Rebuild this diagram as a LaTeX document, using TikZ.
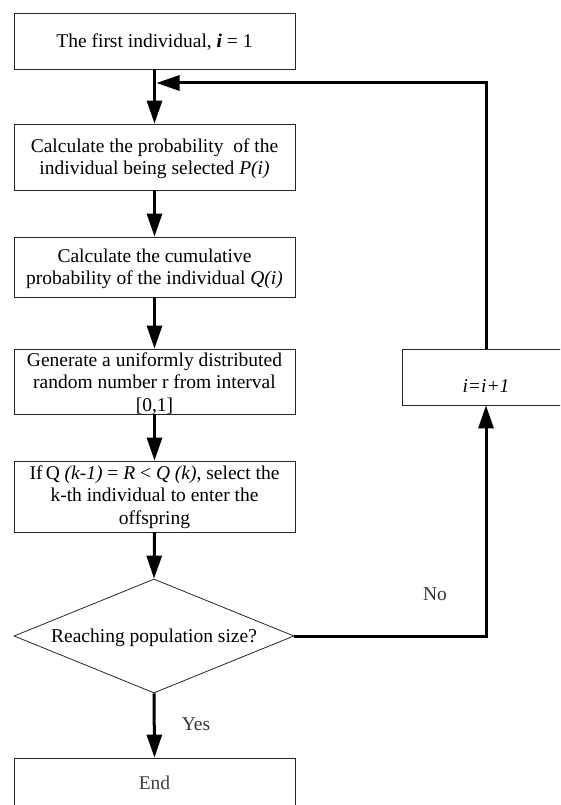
\documentclass[tikz,border=0pt]{standalone}
\usepackage{fontspec}
\setmainfont{Liberation Serif}
\usetikzlibrary{arrows.meta,shapes.geometric}
\newcommand\boxtxt[2][-7]{\raisebox{#1pt}[0pt][0pt]{\begin{tabular}{@{}c@{}}#2\end{tabular}}}
\begin{document}
\begin{tikzpicture}[x=1pt,y=-1pt,
  every node/.style={font=\fontsize{19.5}{22.5}\selectfont},
  box/.style={draw=black!85,line width=0.8pt,inner sep=0pt,minimum width=281pt},
  conn/.style={line width=3pt,-{Triangle[length=23pt,width=15pt]}},
  lbl/.style={text=black!80,inner sep=0pt}]
\useasboundingbox (0,0) rectangle (560,805);
\clip (0,0) rectangle (560,805);
\node[box,minimum height=56pt] (b1) at (154.5,41) {\boxtxt{The first individual, \textbf{\textit{i}} = 1}};
\node[box,minimum height=66pt] (b2) at (154.5,157) {\boxtxt{Calculate the probability\ \ of the\\individual being selected \textit{P(i)}}};
\node[box,minimum height=60pt] (b3) at (154.5,267) {\boxtxt{Calculate the cumulative\\probability of the individual \textit{Q(i)}}};
\node[box,minimum height=65pt] (b4) at (154.5,381.5) {\boxtxt[-8]{Generate a uniformly distributed\\random number r from interval\\{}[0,1]}};
\node[box,minimum height=71pt] (b5) at (154.5,496.5) {\boxtxt[-6]{If\,Q \textit{(k-1)} = \textit{R} {\textless} \textit{Q (k)}, select the\\k-th individual to enter the\\offspring}};
\node[draw=black!85,line width=0.8pt,diamond,aspect=2.46,inner sep=0pt,minimum width=280pt,minimum height=114pt] (d) at (154,636) {\boxtxt{Reaching population size?}};
\node[box,minimum height=50pt,text=black!75] (e) at (154.5,783) {\boxtxt{End}};
\node[draw=black!85,line width=0.8pt,inner sep=0pt,minimum width=168pt,minimum height=56pt] (r) at (486,377) {\boxtxt[-16]{\textit{i=i+1}}};
\coordinate (j) at (156.5,83);
\node[lbl] (no) at (435,594) {No};
\node[lbl] (yes) at (196,724) {Yes};
\draw[conn] (b1.south) -- (b2.north);
\draw[conn] (b2.south) -- (b3.north);
\draw[conn] (b3.south) -- (b4.north);
\draw[conn] (b4.south) -- (b5.north);
\draw[conn] (b5.south) -- (d.north);
\draw[conn] (d.south) -- (e.north);
\draw[conn] (d.east) -| (r.south);
\draw[conn] (r.north) |- (j);
\end{tikzpicture}
\end{document}
